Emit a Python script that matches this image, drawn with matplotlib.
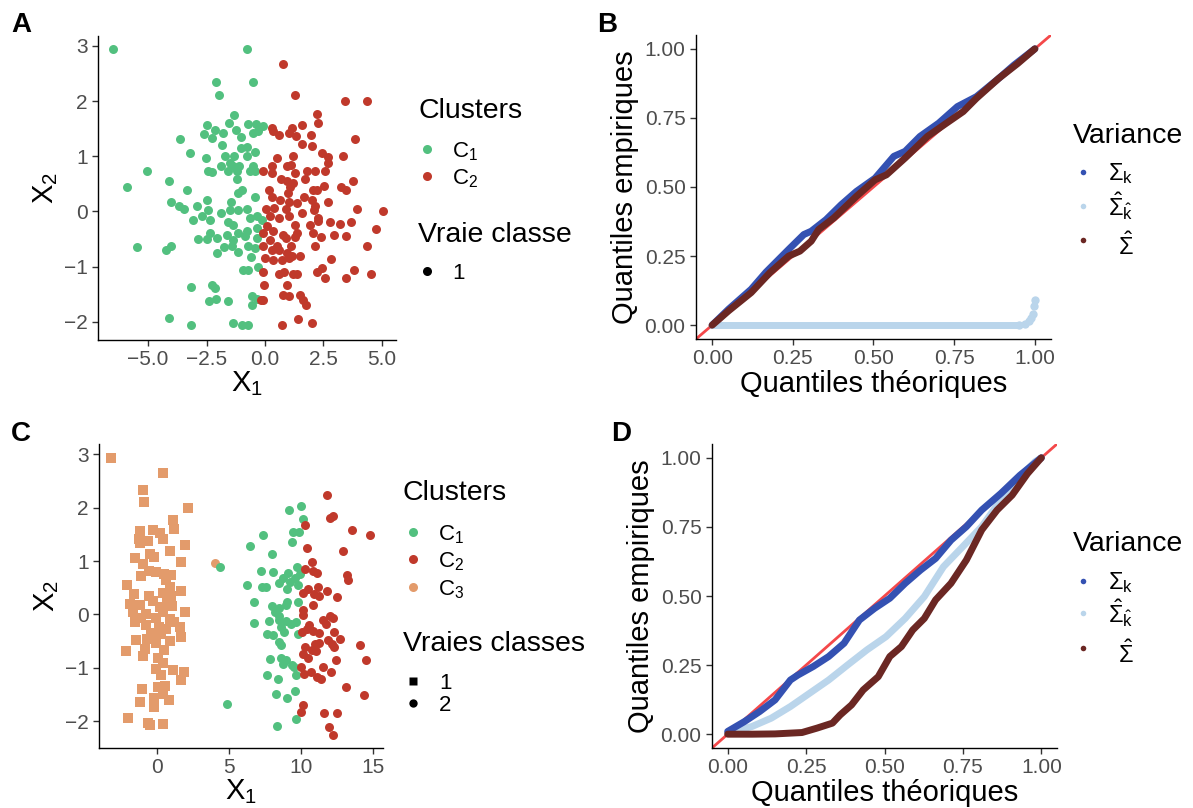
import numpy as np
import matplotlib
matplotlib.use("Agg")
import matplotlib.pyplot as plt
from matplotlib.lines import Line2D

plt.rcParams["font.family"] = ["Liberation Sans", "DejaVu Sans"]
plt.rcParams["mathtext.fontset"] = "custom"
plt.rcParams["mathtext.rm"] = "Liberation Sans"
plt.rcParams["mathtext.it"] = "Liberation Sans:italic"
plt.rcParams["mathtext.default"] = "regular"

GREEN = "#52C07F"
RED = "#C0392B"
ORANGE = "#E39B6B"
BLUE = "#3451B2"
LBLUE = "#BAD5EB"
BROWN = "#6B2723"
DIAG = "#F4484A"

# ---- panel A : two clusters, one true class
a_c1_x = [-6.51, -0.78, -2.09, -0.53, -1.95, -1.31, -2.49, -1.55, -0.71, -0.38, -0.07, -2.61, -2.14, -1.81,
          -1.25, -2.25, -1.03, -0.50, -0.28, -3.62, -1.85, -1.04, -0.75, -3.21, -0.43, -2.54, -1.70, -1.31,
          -0.78, -1.88, -1.50, -1.35, -1.10, -0.50, -5.06, -2.42, -2.27, -1.57, -1.21, -0.64, -0.43, -4.12,
          -1.21, -5.90, -3.35, -0.97, -1.14, -0.43, -4.00, -2.49, -1.45, -3.68, -3.46, -2.89, -2.42, -1.50,
          -1.17, -0.75, -1.88, -2.68, -2.35, -3.09, -0.64, -0.36, -0.14, -1.60, -1.35, -0.36, -2.35, -1.64,
          -1.14, -0.75, -2.88, -2.46, -2.05, -1.38, -0.85, -0.36, -5.48, -4.25, -4.00, -1.75, -1.42, -0.71,
          -2.07, -1.14, -0.43, -0.61, -0.93, -0.71, -0.28, -3.18, -2.25, -2.14, -2.41, -2.08, -1.57, -0.54,
          -0.54, -0.36, -4.10, -3.16, -1.35, -1.00, -0.74]
a_c1_y = [2.94, 2.94, 2.34, 2.34, 2.11, 1.75, 1.57, 1.60, 1.58, 1.58, 1.54, 1.41, 1.48, 1.42,
          1.48, 1.34, 1.35, 1.42, 1.45, 1.31, 1.21, 1.15, 1.16, 1.06, 1.08, 0.97, 1.00, 1.00,
          1.00, 0.83, 0.88, 0.82, 0.83, 0.83, 0.74, 0.74, 0.71, 0.73, 0.73, 0.73, 0.74, 0.56,
          0.59, 0.45, 0.39, 0.39, 0.33, 0.27, 0.18, 0.20, 0.18, 0.09, 0.05, 0.09, 0.03, 0.02,
          0.02, 0.04, -0.03, -0.09, -0.15, -0.16, -0.12, -0.09, -0.15, -0.20, -0.24, -0.30, -0.39, -0.42,
          -0.39, -0.35, -0.50, -0.50, -0.49, -0.51, -0.45, -0.49, -0.64, -0.70, -0.63, -0.64, -0.63, -0.62,
          -0.75, -0.74, -0.66, -0.83, -1.07, -1.07, -1.01, -1.37, -1.34, -1.38, -1.63, -1.58, -1.63, -1.54,
          -1.70, -1.58, -1.94, -2.05, -2.03, -2.06, -2.06]
a_c2_x = [0.78, 1.30, 3.43, 4.37, 2.24, 2.28, 1.58, 0.28, 0.36, 0.61, 1.14, 1.01, 1.32, 1.97, 3.86,
          1.58, 1.99, 2.42, 2.71, 3.35, 0.50, 1.18, 0.93, 1.11, 0.28, 2.71, -0.07, 0.28, 1.30, 1.78,
          2.14, 2.56, 0.68, 0.95, 1.21, 1.71, 3.75, 1.07, 2.54, 3.25, 3.46, 0.17, 1.00, 2.07, 2.24,
          1.67, 0.28, 1.99, 1.03, 0.64, 1.35, 2.68, 2.14, 0.90, 0.03, 0.38, 3.92, 5.03, 2.11, 0.21,
          0.61, 1.04, 2.28, 1.57, 0.07, 1.30, 2.78, 3.21, 3.68, 1.92, 2.28, 4.74, -0.07, 0.36, 0.78,
          1.35, 2.07, 2.96, 3.45, 2.39, 0.21, 0.90, 1.28, 0.50, 1.10, 2.14, -0.10, 4.34, 0.28, 0.61,
          0.93, 1.50, 1.17, 0.00, 0.36, 0.71, 2.81, 1.04, -0.07, 0.61, 0.81, 1.21, 1.35, 2.21, 2.42,
          2.56, 3.79, 4.54, 3.45, -0.03, 0.93, 0.76, 1.04, 1.50, 1.64, 1.75, -0.07, -0.17, 1.40, 0.73,
          1.99]
a_c2_y = [2.67, 2.11, 2.01, 2.01, 1.76, 1.60, 1.57, 1.52, 1.45, 1.38, 1.51, 1.42, 1.36, 1.38, 1.31,
          1.22, 1.19, 1.06, 0.99, 1.00, 0.97, 1.01, 0.82, 0.85, 0.82, 0.88, 0.74, 0.70, 0.70, 0.73,
          0.74, 0.73, 0.58, 0.55, 0.51, 0.58, 0.56, 0.45, 0.47, 0.45, 0.39, 0.39, 0.33, 0.39, 0.39,
          0.26, 0.26, 0.21, 0.18, 0.20, 0.15, 0.18, 0.09, 0.05, 0.05, 0.06, 0.04, -0.00, 0.02, -0.08,
          -0.12, -0.09, -0.12, -0.03, -0.27, -0.24, -0.20, -0.22, -0.20, -0.24, -0.18, -0.31, -0.39, -0.36, -0.42,
          -0.39, -0.39, -0.42, -0.44, -0.47, -0.51, -0.48, -0.46, -0.63, -0.63, -0.63, -0.63, -0.63, -0.69, -0.70,
          -0.75, -0.80, -0.80, -0.84, -0.88, -0.88, -0.86, -0.84, -1.09, -1.14, -1.10, -1.13, -1.14, -1.10, -1.02,
          -1.20, -1.07, -1.14, -1.21, -1.34, -1.33, -1.51, -1.54, -1.51, -1.61, -1.70, -1.60, -1.61, -1.95, -2.05,
          -2.03]

# ---- panel C : three clusters, two true classes
c_c3_sq_x = [-3.18, 0.42, -0.98, -0.91, 2.16, 1.11, 1.18, -1.21, -0.28, 0.19, -1.25, -0.63, 0.42, -1.21,
             1.95, 0.88, -0.51, -1.56, -0.21, -0.98, 1.65, -0.58, -0.05, 0.49, 0.95, -1.14, 0.60, -2.07,
             0.88, 1.65, 0.42, -1.60, -0.58, 1.00, -0.28, 0.72, -1.90, -1.21, 0.19, 1.07, 1.93, -1.67,
             -0.74, 0.42, -1.09, -0.05, 0.88, -1.56, -0.74, 1.18, 0.12, 1.58, 0.65, -0.39, 0.26, 1.70,
             -1.44, -0.67, 0.88, -0.05, -2.14, -0.86, 0.49, -0.98, 0.07, 0.42, -0.05, 1.11, 1.88, 0.30,
             1.70, -1.02, 0.07, 0.53, -0.21, 0.42, 0.84, -1.21, -0.21, -2.02, -0.63, 0.42, -0.46]
c_c3_sq_y = [2.93, 2.65, 2.33, 2.10, 1.99, 1.76, 1.60, 1.57, 1.58, 1.52, 1.41, 1.38, 1.41, 1.33,
             1.30, 1.19, 1.13, 1.05, 1.07, 0.94, 0.98, 0.82, 0.79, 0.76, 0.74, 0.71, 0.64, 0.55,
             0.51, 0.44, 0.41, 0.38, 0.35, 0.35, 0.26, 0.23, 0.19, 0.17, 0.13, 0.16, 0.04, 0.04,
             0.01, 0.04, -0.06, -0.07, -0.09, -0.15, -0.19, -0.15, -0.23, -0.23, -0.28, -0.34, -0.37, -0.43,
             -0.48, -0.46, -0.49, -0.54, -0.68, -0.65, -0.67, -0.78, -0.82, -0.90, -1.03, -1.04, -1.07, -1.13,
             -1.23, -1.39, -1.35, -1.34, -1.56, -1.49, -1.61, -1.63, -1.73, -1.93, -2.04, -2.06, -2.07]
c_c3_pt_x = [4.06]
c_c3_pt_y = [0.96]
c_c1_x = [4.41, 4.83, 9.15, 10.01, 10.12, 7.38, 9.47, 9.89, 9.36, 6.45, 8.01, 9.71, 7.23, 8.06, 8.73,
          9.12, 9.59, 9.94, 8.50, 9.24, 9.82, 6.27, 7.31, 7.57, 9.01, 6.73, 9.01, 9.77, 8.01, 8.50,
          8.96, 8.20, 8.50, 7.78, 8.45, 8.96, 6.73, 9.31, 9.66, 8.64, 8.84, 7.62, 8.08, 9.82, 8.50,
          8.62, 7.87, 8.62, 8.96, 8.78, 9.40, 9.52, 7.62, 9.66, 8.43, 8.24, 9.06, 9.59, 9.66, 8.36]
c_c1_y = [0.89, -1.67, 1.96, 2.03, 1.78, 1.49, 1.54, 1.54, 1.35, 1.29, 1.14, 0.89, 0.81, 0.79, 0.69,
          0.77, 0.69, 0.76, 0.58, 0.60, 0.55, 0.56, 0.52, 0.52, 0.48, 0.24, 0.23, 0.23, 0.16, 0.12,
          0.17, 0.04, -0.03, -0.13, -0.11, -0.13, -0.16, -0.18, -0.15, -0.24, -0.32, -0.37, -0.39, -0.37, -0.51,
          -0.57, -0.83, -0.81, -0.86, -0.92, -0.94, -0.98, -1.13, -1.13, -1.20, -1.48, -1.57, -1.43, -1.95, -2.09]
c_c2_x = [11.84, 12.03, 12.26, 10.29, 13.54, 14.81, 10.40, 12.89, 10.75, 10.29, 10.82, 11.10, 13.23, 13.30,
          10.12, 10.47, 11.21, 10.91, 11.24, 11.82, 12.49, 10.86, 10.12, 10.17, 12.03, 12.26, 11.52, 11.75,
          10.59, 10.05, 10.40, 10.86, 11.28, 12.33, 12.73, 11.91, 10.29, 10.98, 11.24, 12.19, 12.33, 14.12,
          10.12, 10.75, 11.05, 10.52, 12.42, 14.51, 9.98, 10.24, 10.70, 11.52, 12.08, 11.10, 11.38, 13.12,
          14.35, 10.12, 10.01, 11.61, 12.49, 11.96, 12.26]
c_c2_y = [2.24, 1.81, 1.85, 1.68, 1.58, 1.49, 1.24, 1.18, 0.99, 0.85, 0.81, 0.77, 0.73, 0.64,
          0.41, 0.48, 0.52, 0.39, 0.35, 0.43, 0.33, 0.17, 0.08, -0.01, -0.03, -0.06, -0.11, -0.17,
          -0.19, -0.32, -0.28, -0.31, -0.34, -0.32, -0.46, -0.48, -0.61, -0.56, -0.54, -0.56, -0.61, -0.58,
          -0.74, -0.67, -0.68, -0.82, -0.86, -0.85, -0.98, -1.11, -1.07, -0.99, -1.07, -1.17, -1.21, -1.35,
          -1.51, -1.70, -1.83, -1.85, -1.85, -2.11, -2.26]

# ---- panel B : QQ curves
b_sk_x = [0.0, 0.051, 0.121, 0.167, 0.237, 0.284, 0.307, 0.353, 0.40, 0.447, 0.505, 0.563, 0.598, 0.644,
          0.702, 0.760, 0.819, 0.888, 0.935, 1.0]
b_sk_y = [0.0, 0.058, 0.130, 0.192, 0.274, 0.328, 0.340, 0.382, 0.436, 0.484, 0.532, 0.611, 0.629, 0.683,
          0.731, 0.791, 0.827, 0.893, 0.941, 1.0]
b_shk_x = [0.0, 0.25, 0.50, 0.75, 0.95, 0.97, 0.981, 0.988, 0.993, 0.997, 0.999]
b_shk_y = [0.0, 0.0, 0.0, 0.0, 0.0, 0.003, 0.016, 0.025, 0.04, 0.07, 0.09]
b_sh_x = [0.0, 0.051, 0.121, 0.179, 0.237, 0.272, 0.307, 0.330, 0.377, 0.447, 0.505, 0.540, 0.598, 0.667,
          0.726, 0.778, 0.819, 0.888, 0.947, 1.0]
b_sh_y = [0.0, 0.052, 0.118, 0.190, 0.250, 0.268, 0.304, 0.346, 0.388, 0.466, 0.526, 0.544, 0.605, 0.683,
          0.731, 0.773, 0.821, 0.893, 0.947, 1.0]

# ---- panel D : QQ curves
d_sk_x = [0.0, 0.054, 0.102, 0.151, 0.20, 0.224, 0.273, 0.322, 0.371, 0.420, 0.468, 0.517, 0.566, 0.615,
          0.663, 0.712, 0.761, 0.810, 0.871, 0.932, 1.0]
d_sk_y = [0.01, 0.046, 0.082, 0.124, 0.196, 0.214, 0.245, 0.281, 0.329, 0.413, 0.455, 0.492, 0.546, 0.594,
          0.636, 0.702, 0.751, 0.811, 0.871, 0.937, 1.0]
d_shk_x = [0.0, 0.078, 0.139, 0.20, 0.261, 0.322, 0.383, 0.444, 0.505, 0.566, 0.627, 0.688, 0.749, 0.810,
           0.871, 0.932, 0.98, 1.0]
d_shk_y = [0.004, 0.028, 0.058, 0.10, 0.148, 0.196, 0.251, 0.305, 0.353, 0.419, 0.498, 0.606, 0.678, 0.751,
           0.847, 0.931, 0.986, 1.0]
d_sh_x = [0.0, 0.078, 0.151, 0.237, 0.285, 0.334, 0.359, 0.395, 0.432, 0.480, 0.517, 0.554, 0.590, 0.627,
          0.663, 0.712, 0.761, 0.810, 0.859, 0.907, 0.956, 1.0]
d_sh_y = [0.0, 0.0, 0.001, 0.006, 0.022, 0.040, 0.070, 0.106, 0.160, 0.208, 0.281, 0.317, 0.377, 0.419,
          0.486, 0.546, 0.630, 0.739, 0.811, 0.865, 0.943, 1.0]

qq_ticks = [0.0, 0.25, 0.5, 0.75, 1.0]
qq_labels = ["0.00", "0.25", "0.50", "0.75", "1.00"]
var_labels = [r"$\Sigma_k$", r"$\hat{\Sigma}_{\hat{k}}$", r"$\hat{\Sigma}$"]

W, H = 1193, 808
fig = plt.figure(figsize=(W / 100, H / 100), dpi=100)


def px_axes(l, t, r, b):
    return fig.add_axes([l / W, 1 - b / H, (r - l) / W, (b - t) / H])


def style(ax):
    for s in ["top", "right"]:
        ax.spines[s].set_visible(False)
    for s in ["left", "bottom"]:
        ax.spines[s].set_linewidth(1.0)
        ax.spines[s].set_color("black")
    ax.tick_params(labelsize=15, length=4, width=1, color="#333333", labelcolor="#4D4D4D")


def fx(x):
    return x / W


def fy(y):
    return 1 - y / H


def key(title, tx, ty, handles, labels, dx, lx, ys, fs=16, offs=None):
    # title and entries placed in pixel positions, glyph centres on the given rows
    fig.text(fx(tx), fy(ty + 0.358 * 20.5 * 100 / 72), title, fontsize=20.5, va="baseline", ha="left")
    for i, ((c, m, ms), lab, y) in enumerate(zip(handles, labels, ys)):
        fig.add_artist(Line2D([fx(dx)], [fy(y)], transform=fig.transFigure, ls="", marker=m,
                              markersize=ms, color=c, mec="none"))
        dy = 0 if offs is None else offs[i][1]
        ddx = 0 if offs is None else offs[i][0]
        fig.text(fx(lx + ddx), fy(y + dy + 0.358 * fs * 100 / 72), lab, fontsize=fs, va="baseline",
                 ha="left")


# A
axA = px_axes(98, 36, 396, 340)
axA.scatter(a_c1_x, a_c1_y, s=42, color=GREEN, lw=0)
axA.scatter(a_c2_x, a_c2_y, s=42, color=RED, lw=0)
axA.set_xlim(-7.14, 5.6)
axA.set_ylim(-2.33, 3.18)
axA.set_xticks([-5.0, -2.5, 0.0, 2.5, 5.0])
axA.set_xticklabels(["\u22125.0", "\u22122.5", "0.0", "2.5", "5.0"])
axA.set_yticks([-2, -1, 0, 1, 2, 3])
axA.set_yticklabels(["\u22122", "\u22121", "0", "1", "2", "3"])
axA.set_xlabel(r"X$_1$", fontsize=21, labelpad=0)
axA.set_ylabel(r"X$_2$", fontsize=21, labelpad=3)
style(axA)
key("Clusters", 418, 108, [(GREEN, "o", 6.5), (RED, "o", 6.5)], [r"C$_1$", r"C$_2$"], 427, 452, [149, 176])
key("Vraie classe", 418, 232, [("black", "o", 6.5)], ["1"], 427, 452, [271])

# B
axB = px_axes(696, 35, 1051, 339)
axB.axline((0, 0), slope=1, color=DIAG, lw=2, zorder=1)
axB.plot(b_sk_x, b_sk_y, color=BLUE, lw=5, solid_capstyle="round", zorder=2)
axB.plot(b_shk_x[:5], b_shk_y[:5], color=LBLUE, lw=5, solid_capstyle="round", zorder=2)
axB.plot(b_shk_x[4:], b_shk_y[4:], ls="", marker="o", ms=6, color=LBLUE, mec="none", zorder=2)
axB.plot(b_sh_x, b_sh_y, color=BROWN, lw=5, solid_capstyle="round", zorder=3)
axB.set_xlim(-0.05, 1.05)
axB.set_ylim(-0.05, 1.05)
axB.set_xticks(qq_ticks)
axB.set_xticklabels(qq_labels)
axB.set_yticks(qq_ticks)
axB.set_yticklabels(qq_labels)
axB.set_xlabel("Quantiles th\u00e9oriques", fontsize=21, labelpad=1)
axB.set_ylabel("Quantiles empiriques", fontsize=21, labelpad=4)
style(axB)
var_handles = [(BLUE, "o", 4), (LBLUE, "o", 4), (BROWN, "o", 4)]
key("Variance", 1073, 133, var_handles, var_labels, 1083, 1108, [172, 206, 240], fs=17,
    offs=[(0, 0), (0, 2), (10, 7)])

# C
axC = px_axes(99, 444, 383, 748)
axC.scatter(c_c3_sq_x, c_c3_sq_y, s=44, marker="s", color=ORANGE, lw=0)
axC.scatter(c_c3_pt_x, c_c3_pt_y, s=42, color=ORANGE, lw=0)
axC.scatter(c_c1_x, c_c1_y, s=42, color=GREEN, lw=0)
axC.scatter(c_c2_x, c_c2_y, s=42, color=RED, lw=0)
axC.set_xlim(-4.03, 15.7)
axC.set_ylim(-2.5, 3.19)
axC.set_xticks([0, 5, 10, 15])
axC.set_yticks([-2, -1, 0, 1, 2, 3])
axC.set_yticklabels(["\u22122", "\u22121", "0", "1", "2", "3"])
axC.set_xlabel(r"X$_1$", fontsize=21, labelpad=0)
axC.set_ylabel(r"X$_2$", fontsize=21, labelpad=3)
style(axC)
key("Clusters", 403, 490, [(GREEN, "o", 6.5), (RED, "o", 6.5), (ORANGE, "o", 6.5)],
    [r"C$_1$", r"C$_2$", r"C$_3$"], 413, 438, [532, 559, 587])
key("Vraies classes", 403, 641, [("black", "s", 5.5), ("black", "o", 6)], ["1", "2"], 413, 439, [681, 703])

# D
axD = px_axes(712, 444, 1057, 748)
axD.axline((0, 0), slope=1, color=DIAG, lw=2, zorder=1)
axD.plot(d_sk_x, d_sk_y, color=BLUE, lw=5, solid_capstyle="round", zorder=3)
axD.plot(d_shk_x, d_shk_y, color=LBLUE, lw=5, solid_capstyle="round", zorder=2)
axD.plot(d_sh_x, d_sh_y, color=BROWN, lw=5, solid_capstyle="round", zorder=3)
axD.set_xlim(-0.05, 1.05)
axD.set_ylim(-0.05, 1.05)
axD.set_xticks(qq_ticks)
axD.set_xticklabels(qq_labels)
axD.set_yticks(qq_ticks)
axD.set_yticklabels(qq_labels)
axD.set_xlabel("Quantiles th\u00e9oriques", fontsize=21, labelpad=1)
axD.set_ylabel("Quantiles empiriques", fontsize=21, labelpad=4)
style(axD)
key("Variance", 1073, 541, var_handles, var_labels, 1083, 1108, [581, 613, 648], fs=17,
    offs=[(0, 0), (0, 2), (10, 7)])

for lab, x, y in [("A", 11, 12), ("B", 597, 12), ("C", 11, 421), ("D", 611, 421)]:
    fig.text(x / W, 1 - y / H, lab, fontsize=20, fontweight="bold", va="top", ha="left")

fig.savefig("out.png", dpi=100)
